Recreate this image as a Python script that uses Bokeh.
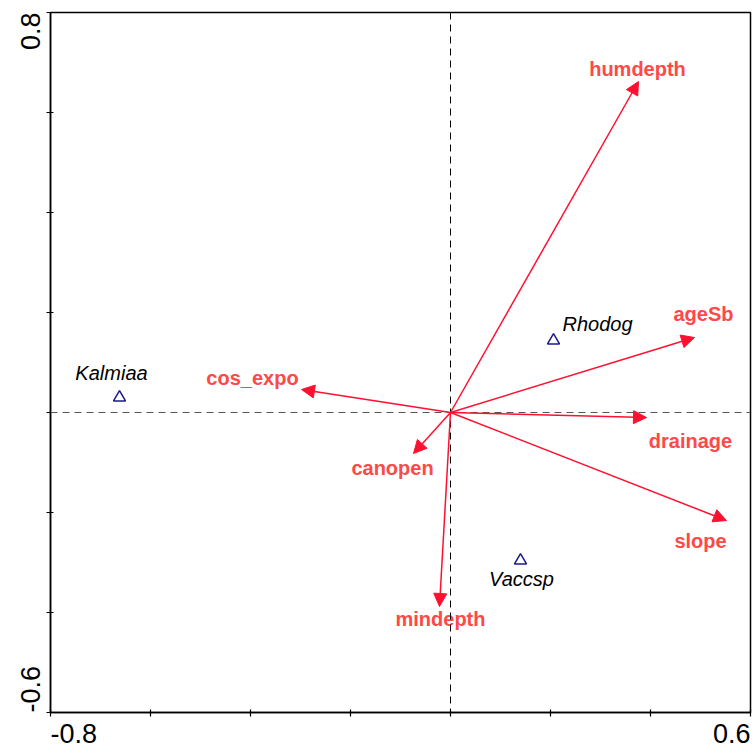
from bokeh.plotting import figure
from bokeh.models import (ColumnDataSource, Range1d, Span, Arrow, NormalHead,
                          FixedTicker)
from bokeh.core.properties import value
from bokeh.embed import file_html
from bokeh.resources import INLINE

# Environmental variables (biplot arrow tips)
env_names = ["humdepth", "ageSb", "drainage", "slope", "cos_expo", "canopen", "mindepth"]
env_x = [0.376, 0.488, 0.392, 0.552, -0.298, -0.074, -0.022]
env_y = [0.662, 0.150, -0.010, -0.216, 0.046, -0.082, -0.388]

# Species scores
sp_names = ["Kalmiaa", "Rhodog", "Vaccsp"]
sp_x = [-0.662, 0.206, 0.140]
sp_y = [0.030, 0.144, -0.296]

# Axis extent and end tick labels
x_lo, x_hi = -0.8, 0.6
y_lo, y_hi = -0.6, 0.8
x_tick_labels = ["-0.8", "0.6"]
y_tick_labels = ["-0.6", "0.8"]
tick_step = 0.2

# label placement (screen pixels relative to the point)
env_dx = [-1, 9, 44, -26, -49, -21, 1]
env_dy = [-13, -24, 23, 20, -12, 14, 12]
sp_dx = [-8, 44, 1]
sp_dy = [-25, -17, 18]

FONT = "Liberation Sans"
TICK_FONT_PX = 27
ARROW_RED = "#ff1030"
LABEL_RED = "#ff4848"
NAVY = "#1a1a8a"
PX_PER_UNIT = 500.0

p = figure(frame_width=700, frame_height=700, output_backend="svg",
           toolbar_location=None,
           x_range=Range1d(x_lo, x_hi), y_range=Range1d(y_lo, y_hi),
           min_border_left=50, min_border_right=2, min_border_top=12,
           min_border_bottom=39)
p.background_fill_color = "white"
p.border_fill_color = "white"
p.grid.visible = False
p.outline_line_color = "black"
p.outline_line_width = 1.5


def steps(lo, hi):
    n = int(round((hi - lo) / tick_step))
    return [round(lo + i * tick_step, 2) for i in range(n + 1)]


# end labels sit inside the axis extent, so their anchors are shifted by
# half of the text width (Arial advance widths)
def text_width_units(s):
    adv = {"-": 0.333, ".": 0.278}
    return sum(adv.get(c, 0.556) for c in s) * TICK_FONT_PX / PX_PER_UNIT


def style_axis(ax, lo, hi, labels, orientation):
    lo_pos = round(lo + text_width_units(labels[0]) / 2, 4)
    hi_pos = round(hi - text_width_units(labels[1]) / 2, 4)
    # major ticks carry only the two end labels; the tick marks every 0.2
    # are drawn as minor ticks
    ax.ticker = FixedTicker(ticks=[lo_pos, hi_pos], minor_ticks=steps(lo, hi))
    ax.major_label_overrides = {lo_pos: labels[0], hi_pos: labels[1]}
    ax.major_tick_line_color = None
    ax.major_tick_in = 0
    ax.major_tick_out = 4
    ax.minor_tick_line_color = "black"
    ax.minor_tick_line_width = 1.2
    ax.minor_tick_in = 3
    ax.minor_tick_out = 4
    ax.axis_line_width = 1.5
    ax.axis_line_color = "black"
    ax.major_label_text_font = FONT
    ax.major_label_text_font_size = f"{TICK_FONT_PX}px"
    ax.major_label_text_color = "black"
    ax.major_label_orientation = orientation
    ax.major_label_standoff = 7


style_axis(p.xaxis[0], x_lo, x_hi, x_tick_labels, "horizontal")
style_axis(p.yaxis[0], y_lo, y_hi, y_tick_labels, "vertical")

# zero lines
p.add_layout(Span(location=0, dimension="width", line_color="#555555",
                  line_dash="7 5", line_width=1))
p.add_layout(Span(location=0, dimension="height", line_color="black",
                  line_dash="7 5", line_width=1))

# arrows from origin
env_src = ColumnDataSource(dict(x0=[0.0] * len(env_x), y0=[0.0] * len(env_y),
                                x=env_x, y=env_y, name=env_names,
                                dx=env_dx, dy=env_dy))
p.add_layout(Arrow(source=env_src, x_start="x0", y_start="y0", x_end="x", y_end="y",
                   line_color=ARROW_RED, line_width=1.5,
                   end=NormalHead(size=13, fill_color=ARROW_RED,
                                  line_color=ARROW_RED, line_width=1)))
p.text(x="x", y="y", text="name", source=env_src, x_offset="dx", y_offset="dy",
       text_align="center", text_baseline="middle", text_color=LABEL_RED,
       text_font=value(FONT), text_font_style="bold", text_font_size="20px")

# species
sp_src = ColumnDataSource(dict(x=sp_x, y=sp_y, name=sp_names, dx=sp_dx, dy=sp_dy))
p.scatter(x="x", y="y", source=sp_src, marker="triangle", size=12,
          fill_color=None, line_color=NAVY, line_width=1.5)
p.text(x="x", y="y", text="name", source=sp_src, x_offset="dx", y_offset="dy",
       text_align="center", text_baseline="middle", text_color="black",
       text_font=value(FONT), text_font_style="italic", text_font_size="20px")

open("out.html", "w").write(file_html(p, INLINE))
